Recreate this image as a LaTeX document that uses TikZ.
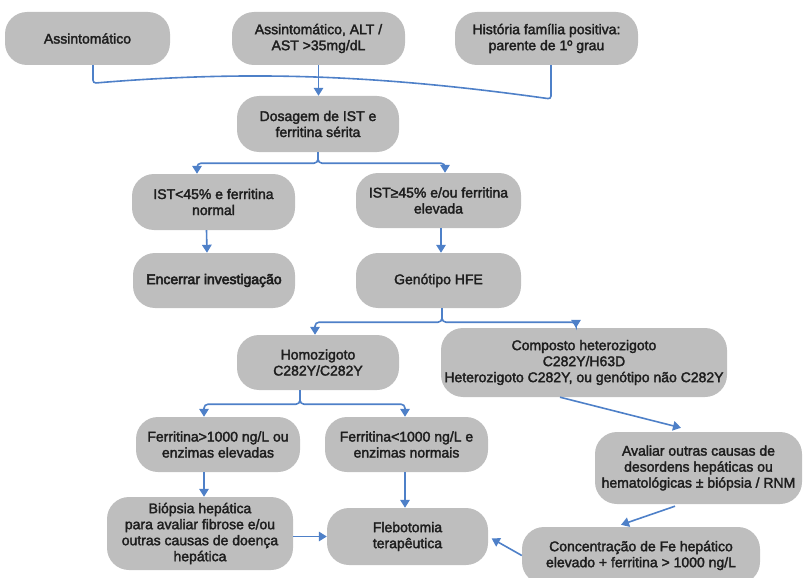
\documentclass[tikz,border=0pt]{standalone}
\usepackage{fontspec}
\setmainfont{Liberation Sans}[RawFeature={embolden=2.2}]
\newfontfamily\heavyfont{Liberation Sans}[RawFeature={embolden=3.6}]
\usetikzlibrary{arrows.meta}
\definecolor{boxgray}{RGB}{190,190,190}
\definecolor{linkblue}{RGB}{78,128,200}
\definecolor{txt}{RGB}{30,30,30}
\tikzset{
  box/.style={fill=boxgray, rounded corners=22pt, align=center, inner sep=0pt,
    text=txt, font=\fontsize{14}{16}\selectfont},
  conn/.style={draw=linkblue, line width=1.6pt},
  arr/.style={conn, -{Triangle[width=9.5pt,length=8pt]}},
}
\begin{document}
\begin{tikzpicture}[x=1pt,y=-1pt]
\useasboundingbox (0,0) rectangle (804,578);
\begin{scope}
\clip (0,0) rectangle (804,578);
\node[box, minimum width=165pt, minimum height=53pt] (a1) at (87.5,38.5) {Assintomático};
\node[box, minimum width=173pt, minimum height=53pt] (a2) at (318.5,38.5) {Assintomático, ALT /\\AST >35mg/dL};
\node[box, minimum width=183pt, minimum height=53pt] (a3) at (546.5,38.5) {História família positiva:\\parente de 1º grau};
\node[box, minimum width=162pt, minimum height=56pt] (dos) at (318,124) {Dosagem de IST e\\ferritina sérita};
\node[box, minimum width=163pt, minimum height=56pt] (ist1) at (213.5,202) {IST<45\% e ferritina\\normal};
\node[box, minimum width=165pt, minimum height=55pt] (ist2) at (438.5,200.5) {IST≥45\% e/ou ferritina\\elevada};
\node[box, minimum width=162pt, minimum height=55pt] (enc) at (214,280.5) {\heavyfont Encerrar investigação};
\node[box, minimum width=165pt, minimum height=55pt] (gen) at (438.5,280.5) {Genótipo HFE};
\node[box, minimum width=162pt, minimum height=55pt] (hom) at (318,362.5) {Homozigoto\\C282Y/C282Y};
\node[box, minimum width=286pt, minimum height=69pt] (comp) at (584,362.5) {Composto heterozigoto\\C282Y/H63D\\Heterozigoto C282Y, ou genótipo não C282Y};
\node[box, minimum width=164pt, minimum height=55pt] (f1) at (218,444.5) {Ferritina>1000 ng/L ou\\enzimas elevadas};
\node[box, minimum width=163pt, minimum height=55pt] (f2) at (406.5,444.5) {Ferritina<1000 ng/L e\\enzimas normais};
\node[box, minimum width=207pt, minimum height=72pt] (av) at (698.5,468) {Avaliar outras causas de\\desordens hepáticas ou\\hematológicas ± biópsia / RNM};
\node[box, minimum width=186pt, minimum height=73pt] (bio) at (200,533.5) {Biópsia hepática\\para avaliar fibrose e/ou\\outras causas de doença\\hepática};
\node[box, minimum width=161pt, minimum height=57pt] (fleb) at (407.5,536.5) {Flebotomia\\terapêutica};
\node[box, minimum width=238pt, minimum height=57pt] (conc) at (641,555.5) {Concentração de Fe hepático\\elevado + ferritina > 1000 ng/L};

% top merge
\draw[conn, rounded corners=3pt] ([xshift=5.5pt]a1.south) -- ++(0,18)
  .. controls (250,70) and (380,75) .. (551,99) -- ([xshift=4.5pt]a3.south);
\draw[arr] (a2.south) -- (a2.south |- dos.north);
% dos split
\draw[arr, rounded corners=4pt] (dos.south) -- ++(0,11) -| ([xshift=-16.5pt]ist1.north);
\draw[arr, rounded corners=4pt] (dos.south) -- ++(0,11) -| ([xshift=6.5pt]ist2.north);
\draw[arr] ([xshift=-7pt]ist1.south) -- ([xshift=-7pt]enc.north);
\draw[arr] ([xshift=2.5pt]ist2.south) -- ([xshift=2.5pt]gen.north);
% gen split
\draw[arr, rounded corners=4pt] ([xshift=3.5pt]gen.south) -- ++(0,14) -| ([xshift=-3pt]hom.north);
\draw[arr, rounded corners=4pt] ([xshift=3.5pt]gen.south) -- ++(0,14) -| ([xshift=-8pt]comp.north);
\draw[arr] ([xshift=-24pt]comp.south) -- ([xshift=-17.5pt,yshift=4pt]av.north);
% hom split
\draw[arr, rounded corners=4pt] ([xshift=-18pt]hom.south) -- ++(0,14) -| ([xshift=-14pt]f1.north);
\draw[arr, rounded corners=4pt] ([xshift=-18pt]hom.south) -- ++(0,14) -| ([xshift=-1.5pt]f2.north);
\draw[arr] ([xshift=-14pt]f1.south) -- ([xshift=4pt]bio.north);
\draw[arr] ([xshift=-1.5pt]f2.south) -- ([xshift=-2.5pt]fleb.north);
\draw[arr] ([yshift=-3pt]bio.east) -- (fleb.west);
\draw[arr] ([xshift=-23.5pt,yshift=-2pt]av.south) -- ([xshift=-20pt,yshift=2pt]conc.north);
\draw[arr, shorten >=4pt] (conc.west) -- (fleb.east);
\end{scope}
\end{tikzpicture}
\end{document}
